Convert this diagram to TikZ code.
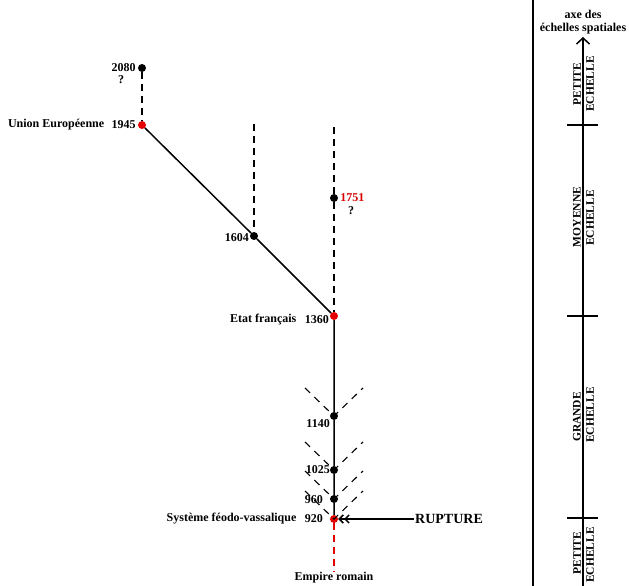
\documentclass[tikz,border=0pt]{standalone}
\usepackage{fontspec}
\setmainfont{Liberation Serif}
\usetikzlibrary{arrows.meta, positioning}

\begin{document}
\begin{tikzpicture}[x = 1pt, y = -1pt,
    pt/.style = {circle, fill=black, inner sep=0pt, minimum size=8pt},
    ptred/.style = {pt, fill=red!90!black},
    lbl/.style = {font=\bfseries\fontsize{12}{13}\selectfont, inner sep=1pt},
    ech/.style = {font=\bfseries\fontsize{11.5}{12}\selectfont, rotate=90, inner sep=0pt},
    dsh/.style = {line width=1.6pt, dash pattern=on 7pt off 5pt},
    chev/.style = {line width=1.1pt, dash pattern=on 7pt off 6pt},
    trait/.style = {line width=1.5pt}]
  \useasboundingbox (0,0) rectangle (629,586);

  % les dates
  \node[pt] (p2080) at (142,68) {};
  \node[ptred] (p1945) at (142,125) {};
  \node[pt] (p1604) at (254,236) {};
  \node[pt] (p1751) at (334,198) {};
  \node[ptred] (p1360) at (334,316) {};
  \node[pt] (p1140) at (334,416) {};
  \node[pt] (p1025) at (334,470) {};
  \node[pt] (p960) at (334,499) {};
  \node[ptred] (p920) at (334,519) {};
  \coordinate (t1604) at (254,124);
  \coordinate (t1751) at (334,127);
  \coordinate (romain) at (334,572);

  \draw[trait] (p1945)-- (p1604)-- (p1360)-- (p1140)-- (p1025)-- (p960)-- (p920);
  \draw[dsh] (p2080)-- (p1945);
  \draw[dsh] (t1604)-- (p1604);
  \draw[dsh] (t1751)-- (p1751)-- (p1360);
  \draw[dsh, red!90!black] (p920)-- (romain);
  \foreach \p in {p1140, p1025, p960, p920}
    \draw[chev] (\p.center) ++(-29,-28)-- (\p.center)-- ++(29,-28);

  \node[lbl, left=1pt of p2080] (l2080) {2080};
  \node[lbl] (q2080) at (121,80) {?};
  \node[lbl, left=1pt of p1945] (l1945) {1945};
  \node[lbl, left=5pt of l1945] (n1945) {Union Européenne};
  \node[lbl, anchor=east] (l1604) at (250,238) {1604};
  \node[lbl, text=red!85!black, right=1pt of p1751] (l1751) {1751};
  \node[lbl] (q1751) at (351,211) {?};
  \node[lbl, anchor=east] (l1360) at (330,320) {1360};
  \node[lbl, left=6pt of l1360] (n1360) {Etat français};
  \node[lbl, anchor=east] (l1140) at (331,424) {1140};
  \node[lbl, anchor=east] (l1025) at (331,470) {1025};
  \node[lbl, anchor=east] (l960) at (324,500) {960};
  \node[lbl, anchor=east] (l920) at (324,519) {920};
  \node[lbl, left=6pt of l920] (n920) {Système féodo-vassalique};
  \node[lbl] (nromain) at (334,578) {Empire romain};

  \node[font=\bfseries\fontsize{14}{16}\selectfont, anchor=west, inner sep=1pt] (rupt) at (414,519) {RUPTURE};
  \draw[trait, -{Straight Barb[length=4pt, width=8pt] Straight Barb[length=4pt, width=8pt]}] (rupt.west)-- (p920);

  % axe des echelles
  \coordinate (sep0) at (533,0);
  \coordinate (sep1) at (533,586);
  \coordinate (axbas) at (583,586);
  \coordinate (axhaut) at (583,37);
  \draw[trait] (sep0)-- (sep1);
  \draw[trait, -{Straight Barb[length=6pt, width=13pt]}] (axbas)-- (axhaut);
  \foreach \y in {125, 316, 518}
    \draw[trait] (567,\y)-- (598,\y);
  \node[lbl] (axe1) at (583,14) {axe des};
  \node[lbl] (axe2) at (583,29) {échelles spatiales};

  \node[ech, anchor=south] at (581,84) {PETITE};
  \node[ech, anchor=north] at (586,84) {ECHELLE};
  \node[ech, anchor=south] at (581,217) {MOYENNE};
  \node[ech, anchor=north] at (586,218) {ECHELLE};
  \node[ech, anchor=south] at (581,417) {GRANDE};
  \node[ech, anchor=north] at (586,415) {ECHELLE};
  \node[ech, anchor=south] at (581,553) {PETITE};
  \node[ech, anchor=north] at (586,555) {ECHELLE};
\end{tikzpicture}
\end{document}
